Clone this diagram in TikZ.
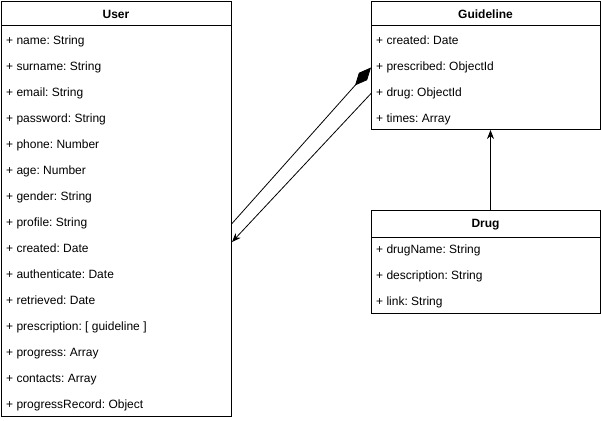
\documentclass[tikz,border=0pt]{standalone}
\usepackage{fontspec}
\setmainfont{Liberation Sans}
\usetikzlibrary{positioning,arrows.meta}

\begin{document}
\frenchspacing
\begin{tikzpicture}[x=1pt, y=-1pt,
		box/.style={draw, line width=1pt, anchor=north west, inner sep=0pt},
		title/.style={inner sep=0pt, font=\fontsize{12}{14}\selectfont\bfseries},
		field/.style={anchor=west, inner sep=0pt, font=\fontsize{12}{14}\selectfont, text height=8.5pt, text depth=2.5pt}]
		\useasboundingbox (0,0) rectangle (601,420);

		% classes
		\node[box, minimum width=230pt, minimum height=415pt] (User) at (1,1) {};
		\node[box, minimum width=229pt, minimum height=128pt] (Guide) at (371,1) {};
		\node[box, minimum width=229pt, minimum height=103pt] (Drug) at (371,210) {};
		\draw[line width=1pt] ([yshift=-25pt]User.north west) -- ([yshift=-25pt]User.north east);
		\draw[line width=1pt] ([yshift=-25pt]Guide.north west) -- ([yshift=-25pt]Guide.north east);
		\draw[line width=1pt] ([yshift=-27pt]Drug.north west) -- ([yshift=-27pt]Drug.north east);

		\node[title] (UserT) at (116,14.5) {User};
		\node[title] (GuideT) at (485.5,14.5) {Guideline};
		\node[title] (DrugT) at (485.5,224.5) {Drug};

		\foreach \t [count=\i] in {name: String, surname: String, email: String, password: String, phone: Number, age: Number, gender: String, profile: String, created: Date, authenticate: Date, retrieved: Date, {prescription: [ guideline ]}, progress: Array, contacts: Array, progressRecord: Object}
			\node[field] (U\i) at (6, 15.5+26*\i) {+ \t};
		\foreach \t [count=\i] in {created: Date, prescribed: ObjectId, drug: ObjectId, times: Array}
			\node[field] (G\i) at (376, 15.5+26*\i) {+ \t};
		\foreach \t [count=\i] in {drugName: String, description: String, link: String}
			\node[field] (D\i) at (376, 224.5+26*\i) {+ \t};

		% connectors
		\coordinate (UA) at (User.east |- U8);
		\coordinate (UB) at (232,242);
		\draw[line width=0.8pt, -{Diamond[length=24pt,width=11pt]}] (UA) -- (Guide.west |- G2);
		\draw[line width=0.8pt, -{Stealth[length=9pt,width=7pt]}] (Guide.west |- G3) -- (UB);
		\draw[line width=0.8pt, -{Stealth[length=9pt,width=7pt]}] ([xshift=4.5pt]Drug.north) -- ([xshift=4.5pt]Guide.south);
	\end{tikzpicture}
\end{document}
